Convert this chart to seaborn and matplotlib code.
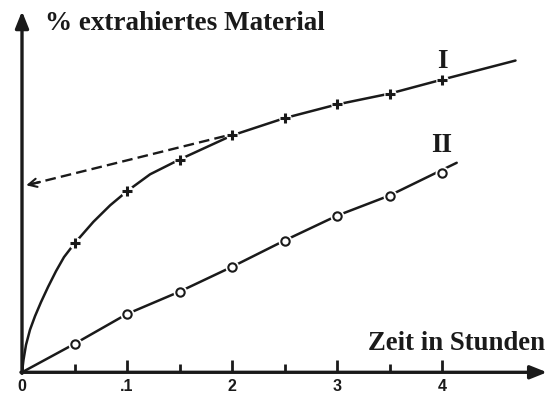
import matplotlib
matplotlib.use("Agg")
import matplotlib.pyplot as plt
import seaborn as sns
import pandas as pd

# Measured points (time in hours, extracted material in %)
time_h = [0.5, 1.0, 1.5, 2.0, 2.5, 3.0, 3.5, 4.0]
extract_I = [35.8, 50.3, 59.1, 65.8, 70.6, 74.4, 77.4, 81.3]
extract_II = [7.9, 16.2, 22.4, 29.3, 36.6, 43.5, 49.1, 55.4]

# Hand-drawn course of each curve
course_I_t = [0, 0.014, 0.038, 0.076, 0.124, 0.181, 0.248, 0.324, 0.40, 0.5,
              0.68, 0.84, 1.0, 1.22, 1.5, 2.0, 2.5, 3.0, 3.5, 4.0, 4.70]
course_I_y = [0, 3.4, 7.6, 11.8, 15.6, 19.5, 23.7, 28.1, 32.0, 35.8,
              41.8, 46.4, 50.3, 55.0, 59.1, 65.8, 70.6, 74.4, 77.4, 81.3, 86.6]
course_II_t = [0, 0.5, 1.0, 1.5, 2.0, 2.5, 3.0, 3.5, 4.14]
course_II_y = [0, 7.9, 16.2, 22.4, 29.3, 36.6, 43.5, 49.1, 58.2]

# Extrapolation of the linear part of curve I back to t = 0
tangent_t = [1.93, 0.05]
tangent_y = [65.6, 52.0]

tick_pos = [0, 1, 2, 3, 4]
tick_labels = ["0", ".1", "2", "3", "4"]
minor_pos = [0.5, 1.5, 2.5, 3.5]

sns.set_style("white")
plt.rcParams["font.family"] = ["Liberation Serif", "DejaVu Serif"]

ink = "#1a1a1a"
W, H = 547, 394
fig = plt.figure(figsize=(W / 100, H / 100), dpi=100)
x0, y0 = 22, 372.3          # pixel position of the origin
px_per_h, px_per_unit = 105, 3.6
ax = fig.add_axes([x0 / W, (H - y0) / H, 5 * px_per_h / W, 100 * px_per_unit / H])
ax.set_xlim(0, 5)
ax.set_ylim(0, 100)
for s in ax.spines.values():
    s.set_visible(False)

# Axes with arrow heads
ax.annotate("", xy=(5.0, 0), xytext=(-0.01, 0),
            arrowprops=dict(arrowstyle="-|>,head_length=1.0,head_width=0.4",
                            lw=2.4, color=ink, shrinkA=0, shrinkB=0),
            annotation_clip=False)
ax.annotate("", xy=(0, 100.3), xytext=(0, -0.3),
            arrowprops=dict(arrowstyle="-|>,head_length=1.0,head_width=0.4",
                            lw=2.4, color=ink, shrinkA=0, shrinkB=0),
            annotation_clip=False)

# Ticks pointing upwards from the time axis
ax.set_xticks(tick_pos)
ax.set_xticklabels(tick_labels, fontfamily="Liberation Sans", fontweight="bold",
                   fontsize=11.5, color=ink)
ax.set_xticks(minor_pos, minor=True)
ax.tick_params(axis="x", which="major", direction="in", length=9, width=2,
               color=ink, pad=5, bottom=True)
ax.tick_params(axis="x", which="minor", direction="in", length=6, width=2,
               color=ink, bottom=True)
ax.set_yticks([])

# Curves
sns.lineplot(x=course_I_t, y=course_I_y, sort=False, estimator=None, ax=ax,
             color=ink, lw=1.8)
sns.lineplot(x=course_II_t, y=course_II_y, sort=False, estimator=None, ax=ax,
             color=ink, lw=1.8)
sns.lineplot(x=tangent_t, y=tangent_y, sort=False, estimator=None, ax=ax,
             color=ink, lw=1.7, dashes=False, linestyle=(0, (4.5, 2.2)))
ax.annotate("", xy=(tangent_t[1] - 0.01, tangent_y[1] - 0.05),
            xytext=(tangent_t[1] + 0.12, tangent_y[1] + 0.85),
            arrowprops=dict(arrowstyle="->,head_length=0.6,head_width=0.3",
                            lw=1.5, color=ink, shrinkA=0, shrinkB=0))

# Markers with a small white gap around them
pts = pd.DataFrame({"t": time_h, "I": extract_I, "II": extract_II})
ax.plot(pts["t"], pts["I"], ls="none", marker="o", ms=9, mfc="white", mec="none", zorder=4)
ax.plot(pts["t"], pts["I"], ls="none", marker="+", ms=7.5, mew=2.2, color=ink, zorder=5)
ax.plot(pts["t"], pts["II"], ls="none", marker="o", ms=10, mfc="white", mec="none", zorder=4)
sns.scatterplot(data=pts, x="t", y="II", ax=ax, marker="o", s=36, facecolor="white",
                edgecolor=ink, linewidth=1.5, zorder=5)
ax.set_xlabel("")
ax.set_ylabel("")

# Texts
fig.text(45 / W, 1 - 30 / H, "% extrahiertes Material", fontsize=19.5,
         fontweight="bold", color=ink, ha="left", va="baseline")
fig.text(545 / W, 1 - 350 / H, "Zeit in Stunden", fontsize=19.3,
         fontweight="bold", color=ink, ha="right", va="baseline")
ax.text(4.0, 84.4, "I", fontsize=19.5, fontweight="bold", color=ink, ha="center",
        va="baseline")
ax.text(4.0, 61.1, "II", fontsize=19.5, fontweight="bold", color=ink, ha="center",
        va="baseline")

fig.savefig("out.png", dpi=100)
